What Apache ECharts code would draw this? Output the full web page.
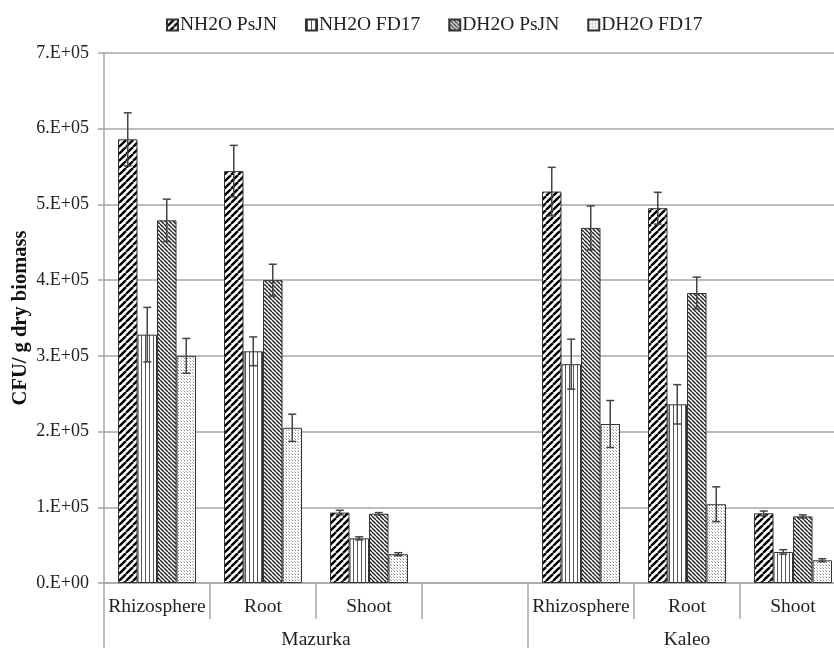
<!DOCTYPE html>
<html>
<head>
<meta charset="utf-8">
<script src="https://cdn.jsdelivr.net/npm/echarts@6/dist/echarts.min.js"></script>
<style>html,body{margin:0;padding:0;background:#fff;}#c{width:834px;height:648px;}</style>
</head>
<body>
<div id="c"></div>
<script>
const categories = ['Rhizosphere', 'Root', 'Shoot', '', 'Rhizosphere', 'Root', 'Shoot'];
const groupLabels = ['', '', '', '', 'Mazurka', '', '', '', '', '', '', 'Kaleo', '', '', ''];
const seriesNames = ['NH2O PsJN', 'NH2O FD17', 'DH2O PsJN', 'DH2O FD17'];
const nh2oPsJN = [586000, 544000, 93000, null, 517000, 495000, 92000];
const nh2oFD17 = [328000, 306000, 59000, null, 289000, 236000, 41000];
const dh2oPsJN = [479000, 400000, 91500, null, 469000, 383000, 88000];
const dh2oFD17 = [300000, 205000, 38000, null, 210000, 104000, 30000];
const nh2oPsJNErr = [35000, 34000, 3000, null, 32000, 21000, 3000];
const nh2oFD17Err = [36000, 19000, 2000, null, 33000, 26000, 3000];
const dh2oPsJNErr = [28000, 21000, 1500, null, 29000, 21000, 2000];
const dh2oFD17Err = [23000, 18000, 2000, null, 31000, 23000, 2000];
const yTicks = { min: 0, max: 700000, interval: 100000 };

const values = [nh2oPsJN, nh2oFD17, dh2oPsJN, dh2oFD17];
const errors = [nh2oPsJNErr, nh2oFD17Err, dh2oPsJNErr, dh2oFD17Err];

function makePattern(kind) {
  const c = document.createElement('canvas');
  let s;
  const ctx = c.getContext('2d');
  if (kind === 'fwd') {
    s = 7; c.width = s; c.height = s;
    ctx.fillStyle = '#fff'; ctx.fillRect(0, 0, s, s);
    ctx.strokeStyle = '#000'; ctx.lineWidth = 2.4;
    for (const k of [-s, 0, s]) { ctx.beginPath(); ctx.moveTo(k, s); ctx.lineTo(k + s, 0); ctx.stroke(); }
  } else if (kind === 'back') {
    s = 4; c.width = s; c.height = s;
    ctx.fillStyle = '#fff'; ctx.fillRect(0, 0, s, s);
    ctx.strokeStyle = '#222'; ctx.lineWidth = 1.4;
    for (const k of [-s, 0, s]) { ctx.beginPath(); ctx.moveTo(k, 0); ctx.lineTo(k + s, s); ctx.stroke(); }
  } else if (kind === 'vert') {
    c.width = 4; c.height = 4;
    ctx.fillStyle = '#fff'; ctx.fillRect(0, 0, 4, 4);
    ctx.fillStyle = '#555'; ctx.fillRect(1, 0, 1, 4);
  } else {
    c.width = 3; c.height = 3;
    ctx.fillStyle = '#fff'; ctx.fillRect(0, 0, 3, 3);
    ctx.fillStyle = '#888'; ctx.fillRect(1, 1, 1, 1);
    ctx.fillStyle = '#bbb'; ctx.fillRect(0, 0, 1, 1);
  }
  return { image: c, repeat: 'repeat' };
}
const patterns = [makePattern('fwd'), makePattern('vert'), makePattern('back'), makePattern('dots')];

const FONT = '"Liberation Serif", "Times New Roman", serif';
const BAR_W = 19.5;

function fmtSci(v) {
  if (v === 0) return '0.E+00';
  const e = Math.floor(Math.log10(v));
  const m = Math.round(v / Math.pow(10, e));
  return m + '.E+' + (e < 10 ? '0' + e : e);
}

const series = [];
seriesNames.forEach((name, i) => {
  series.push({
    name: name,
    type: 'bar',
    xAxisIndex: 0,
    data: values[i],
    barWidth: BAR_W,
    barGap: '0%',
    itemStyle: { color: patterns[i], borderColor: '#333', borderWidth: 1 },
    emphasis: { disabled: true },
    z: 2
  });
});
seriesNames.forEach((name, i) => {
  const d = [];
  values[i].forEach((v, j) => { if (v != null) d.push([j, v, errors[i][j]]); });
  series.push({
    name: name + ' err',
    type: 'custom',
    xAxisIndex: 0,
    data: d,
    z: 5,
    silent: true,
    renderItem: function (params, api) {
      const x = api.value(0), v = api.value(1), e = api.value(2);
      const off = (i - 1.5) * BAR_W;
      const top = api.coord([x, v + e]);
      const bot = api.coord([x, v - e]);
      const cx = top[0] + off;
      const st = { stroke: '#444', lineWidth: 1.5 };
      return {
        type: 'group',
        children: [
          { type: 'line', shape: { x1: cx, y1: top[1], x2: cx, y2: bot[1] }, style: st },
          { type: 'line', shape: { x1: cx - 4, y1: top[1], x2: cx + 4, y2: top[1] }, style: st },
          { type: 'line', shape: { x1: cx - 4, y1: bot[1], x2: cx + 4, y2: bot[1] }, style: st }
        ]
      };
    }
  });
});

const chart = echarts.init(document.getElementById('c'), null, { renderer: 'canvas' });
chart.setOption({
  animation: false,
  backgroundColor: '#fff',
  textStyle: { fontFamily: FONT },
  grid: { left: 104, top: 53, width: 742, height: 530, containLabel: false, outerBoundsMode: 'none' },
  legend: {
    data: seriesNames,
    left: 161, top: 10,
    icon: 'rect',
    itemWidth: 11, itemHeight: 11,
    itemGap: 28,
    textStyle: { fontFamily: FONT, fontSize: 19.5, color: '#222', padding: [0, 0, 0, -3] },
    selectedMode: false
  },
  xAxis: [{
    type: 'category',
    data: categories,
    position: 'bottom',
    axisLine: { show: true, lineStyle: { color: '#a6a6a6', width: 1.5 } },
    axisTick: { show: true, length: 36, lineStyle: { color: '#a6a6a6', width: 1.5 } },
    axisLabel: { fontFamily: FONT, fontSize: 19.5, color: '#222', margin: 14, interval: 0 },
    splitLine: { show: false }
  }, {
    type: 'category',
    data: groupLabels,
    position: 'bottom',
    boundaryGap: false,
    axisLine: { show: false },
    axisTick: { show: true, length: 65, interval: function (idx) { return idx === 0 || idx === 8 || idx === 14; }, lineStyle: { color: '#a6a6a6', width: 1.5 } },
    axisLabel: { fontFamily: FONT, fontSize: 19.5, color: '#222', margin: 47, interval: 0 },
    splitLine: { show: false }
  }],
  yAxis: {
    type: 'value',
    min: yTicks.min, max: yTicks.max, interval: yTicks.interval,
    name: 'CFU/ g dry biomass',
    nameLocation: 'middle',
    nameGap: 73,
    nameMoveOverlap: false,
    nameTextStyle: { fontFamily: FONT, fontSize: 20.5, fontWeight: 'bold', color: '#111' },
    axisLine: { show: true, lineStyle: { color: '#a6a6a6', width: 1.5 } },
    axisTick: { show: true, length: 6, lineStyle: { color: '#a6a6a6', width: 1.5 } },
    axisLabel: { fontFamily: FONT, fontSize: 18, color: '#222', margin: 15, formatter: fmtSci },
    splitLine: { show: true, lineStyle: { color: '#a6a6a6', width: 1.5 } }
  },
  series: series
});
</script>
</body>
</html>
